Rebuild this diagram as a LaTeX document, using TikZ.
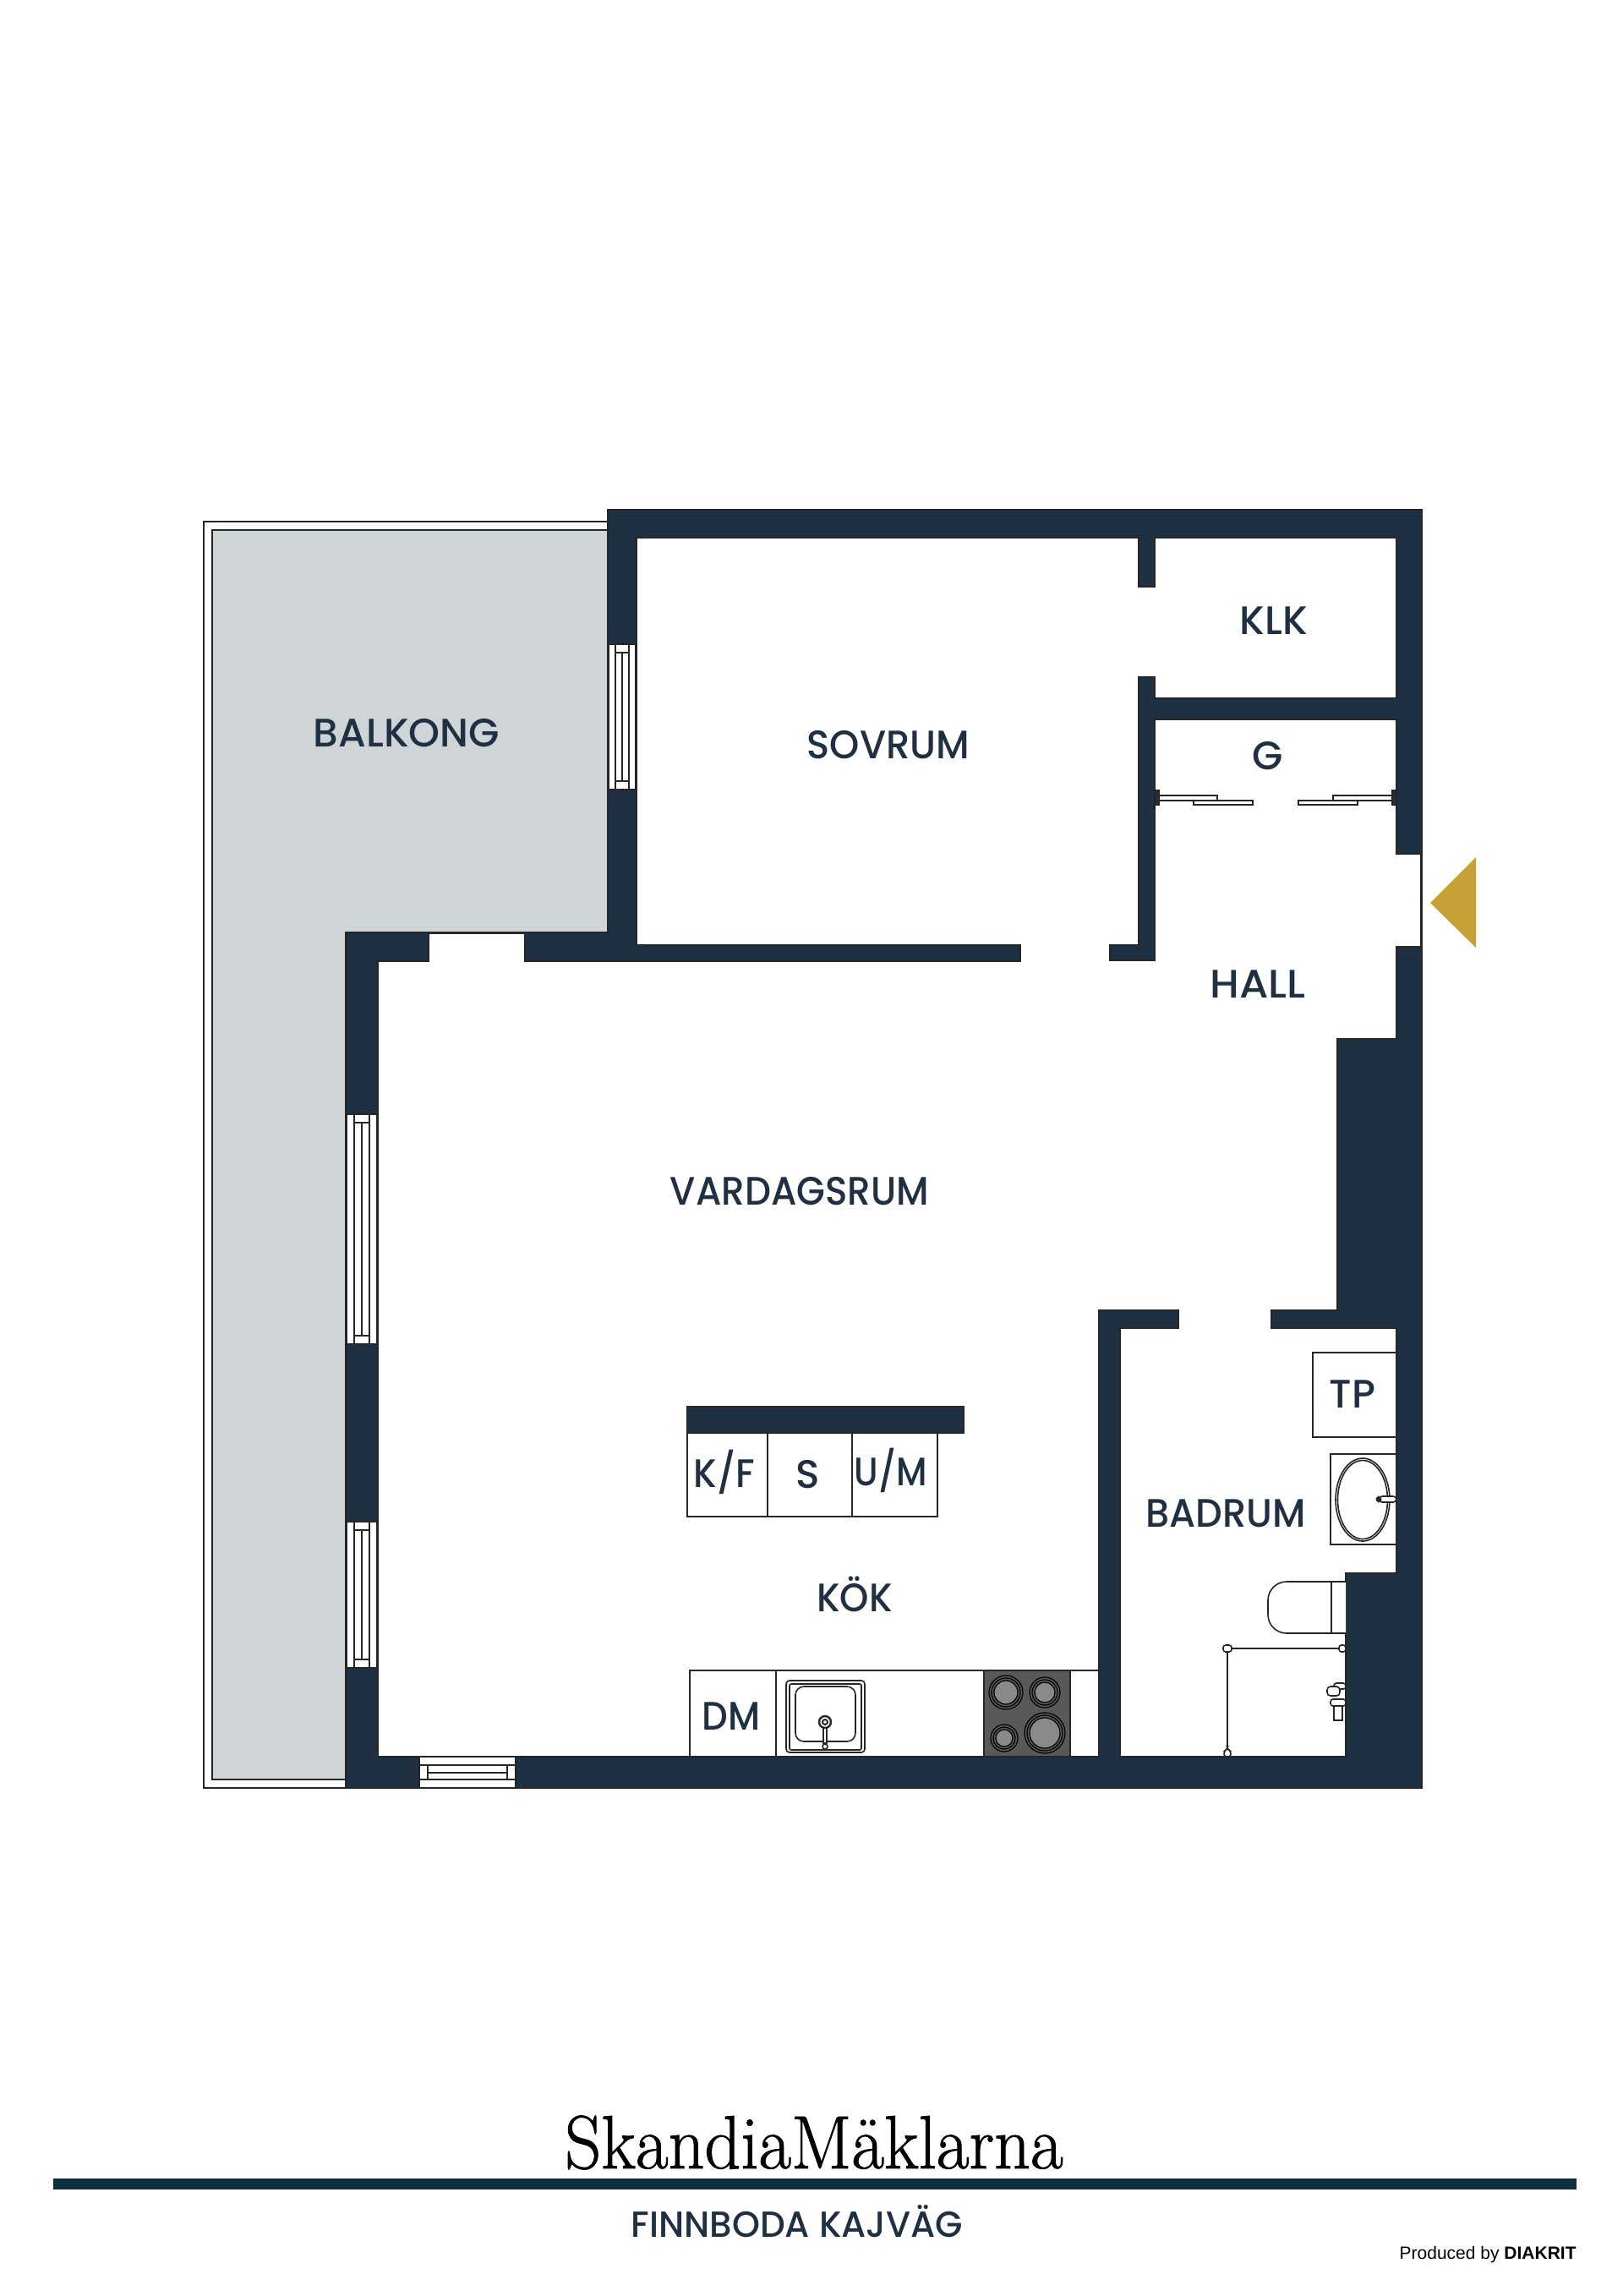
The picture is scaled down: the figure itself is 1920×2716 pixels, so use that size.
\documentclass[tikz,border=0pt]{standalone}
\usepackage{fontspec}
\setmainfont{Poppins}[UprightFont=* Medium]
\newfontfamily\logofont[FakeStretch=0.94,FakeBold=1]{Latin Modern Roman}
\newfontfamily\creditfont{Liberation Sans}
\definecolor{wallblue}{HTML}{203043}
\definecolor{balcgray}{HTML}{CFD4D7}
\definecolor{goldtri}{HTML}{C7A035}
\definecolor{rulesea}{HTML}{0E2F40}
\definecolor{hobgray}{HTML}{595959}
\definecolor{ringgray}{HTML}{8A8A8A}
\tikzset{
  wall/.style={draw=black!85,line width=.8pt,fill=wallblue},
  roomline/.style={draw=black!85,line width=.8pt,fill=white},
  fixture/.style={draw=black!85,line width=.8pt,fill=white},
  room/.style={anchor=base,inner sep=0pt,text=wallblue,font=\fontsize{23.5}{24}\selectfont},
  squeeze/.style={xscale=#1,transform shape},
}
\begin{document}
\begin{tikzpicture}[x=.5pt,y=-.5pt]
  \useasboundingbox (0,0) rectangle (1920,2716);
  \draw[roomline] (719,617) -- (241,617) -- (241,2115) -- (409,2115);
  \draw[roomline,fill=balcgray] (719,627) -- (251,627) -- (251,2105) -- (409,2105) -- (409,1103) -- (719,1103) -- cycle;
  \draw[wall] (719,603) -- (1682,603) -- (1682,2115) -- (409,2115) -- (409,1103) -- (719,1103) -- cycle;
  \draw[roomline] (753,636) -- (1347,636) -- (1347,694) -- (1366,694) -- (1366,636) -- (1652,636) -- (1652,826)
    -- (1366,826) -- (1366,801) -- (1347,801) -- (1347,1118) -- (1313,1118) -- (1313,1136) -- (1366,1136)
    -- (1366,851) -- (1652,851) -- (1652,1010) -- (1681,1010) -- (1681,1120) -- (1652,1120) -- (1652,1229)
    -- (1582,1229) -- (1582,1550) -- (1504,1550) -- (1504,1571) -- (1652,1571) -- (1652,1861) -- (1592,1861)
    -- (1592,2078) -- (1325,2078) -- (1325,1571) -- (1394,1571) -- (1394,1550) -- (1300,1550) -- (1300,2078)
    -- (447,2078) -- (447,1137) -- (507,1137) -- (507,1104) -- (621,1104) -- (621,1137) -- (1207,1137)
    -- (1207,1118) -- (753,1118) -- cycle;
  \foreach \wx/\ww/\wa/\wb in {720/32/762/934,410/36/1318/1590,410/36/1800/1973} {
    \draw[fixture] (\wx,\wa) rectangle +(\ww,\wb-\wa);
    \draw[fixture] (\wx+\ww/4,\wa) -- (\wx+\ww/4,\wb) (\wx+3*\ww/4,\wa) -- (\wx+3*\ww/4,\wb);
    \draw[fixture] (\wx+\ww/4,\wa+10) -- (\wx+3*\ww/4,\wa+10) (\wx+\ww/4,\wb-10) -- (\wx+3*\ww/4,\wb-10) (\wx+\ww/2,\wa+10) -- (\wx+\ww/2,\wb-10);
  }
  \draw[fixture] (496,2078) rectangle (610,2115);
  \draw[fixture] (496,2088) -- (610,2088) (496,2105) -- (610,2105) (506,2088) -- (506,2105) (600,2088) -- (600,2105) (506,2097) -- (600,2097);

  \draw[wall] (1366,935) rectangle (1371,952) (1647,935) rectangle (1652,952);
  \draw[fixture] (1371,941) rectangle (1440,947);
  \draw[fixture] (1412,947) rectangle (1482,952);
  \draw[fixture] (1577,941) rectangle (1647,947);
  \draw[fixture] (1536,947) rectangle (1606,952);

  \fill[goldtri] (1692,1068) -- (1746,1014) -- (1746,1121) -- cycle;

  \draw[wall] (813,1664) rectangle (1140,1695);
  \draw[fixture] (813,1695) rectangle (908,1794);
  \draw[fixture] (908,1695) rectangle (1008,1794);
  \draw[fixture] (1008,1695) rectangle (1109,1794);
  \draw[fixture] (816,1976) rectangle (1300,2078);
  \draw[fixture] (918,1976) -- (918,2078);
  \draw[fixture,rounded corners=2pt] (930,1988) rectangle (1023,2073);
  \draw[fixture,rounded corners=1pt] (934,1992) rectangle (1019,2070);
  \draw[fixture,rounded corners=5pt] (941,1995) rectangle (1012,2060);
  \draw[fixture,line width=1.2pt] (976,2037) circle (7);
  \draw[fixture,line width=1pt] (976,2037) circle (3);
  \draw[fixture,line width=1pt] (974,2044) rectangle (978,2062);
  \draw[fixture,line width=.8pt] (976,2066) circle (3);
  \draw[fixture,fill=hobgray] (1164,1976) rectangle (1266,2078);
  \foreach \bx/\by/\br in {1190/2002/20,1236/2002/18,1188/2056/16,1236/2050/24} {
    \draw[line width=.6pt,fill=hobgray,draw=black] (\bx,\by) circle (\br);
    \draw[line width=.6pt,draw=black] (\bx,\by) circle (\br-3);
    \draw[line width=.6pt,fill=ringgray,draw=black] (\bx,\by) circle (\br-6);
  }

  \draw[fixture] (1553,1600) rectangle (1652,1700);
  \draw[fixture] (1574,1720) rectangle (1652,1827);
  \draw[fixture] (1612,1774) ellipse (32 and 49);
  \draw[fixture] (1612,1774) ellipse (29.5 and 46.5);
  \draw[fixture,rounded corners=2pt] (1631,1770) rectangle (1652,1777);
  \fill[black!85] (1631,1773.5) circle (3.5);
  \draw[fixture,rounded corners=11pt] (1592,1871) -- (1500,1871) -- (1500,1932) -- (1592,1932);
  \draw[fixture] (1575,1871) -- (1575,1932);
  \draw[fixture,line width=1pt] (1452,1950) -- (1588,1950) (1452,1950) -- (1452,2073);
  \draw[fixture,rounded corners=1.5pt] (1447,1946) rectangle (1457,1954);
  \draw[fixture,rounded corners=1.5pt] (1584,1946) rectangle (1592,1954);
  \draw[fixture,rounded corners=1.5pt] (1448,2072) -- (1452,2068) -- (1456,2072) -- (1456,2078) -- (1448,2078) -- cycle;
  \draw[fixture,rounded corners=1.5pt] (1578,1991) rectangle (1592,1998);
  \draw[fixture,rounded corners=2pt] (1570,1995) rectangle (1585,2006);
  \draw[fixture,rounded corners=1.5pt] (1574,2010) rectangle (1592,2018);
  \draw[fixture] (1578,2018) rectangle (1588,2035);

  \path (481,883) node[room] (balkong) {BALKONG};
  \path (1051,897) node[room,squeeze=.955] (sovrum) {SOVRUM};
  \path (1507,750) node[room] (klk) {KLK};
  \path (1500,910) node[room] (garderob) {G};
  \path (1488,1180) node[room,squeeze=1.05] (hall) {HALL};
  \path (946,1425) node[room,squeeze=.93] (vardagsrum) {VARDAGSRUM};
  \path (857,1759) node[room,squeeze=.93] (kf) {K/F};
  \path (956,1760) node[room] (sk) {S};
  \path (1054,1757) node[room,squeeze=.88] (um) {U/M};
  \path (1011,1906) node[room,squeeze=.93] (kok) {KÖK};
  \path (865,2046) node[room,squeeze=.92] (dm) {DM};
  \path (1600,1665) node[room] (tp) {TP};
  \path (1450,1806) node[room,squeeze=.95] (badrum) {BADRUM};

  \path (963,2565) node[anchor=base,inner sep=0pt,font=\logofont\fontsize{44.7}{45}\selectfont] (logo) {SkandiaMäklarna};
  \fill[rulesea] (63,2577) rectangle (1865,2590);
  \path (943,2646) node[room,squeeze=.975,font=\fontsize{21.5}{22}\selectfont] (adress) {FINNBODA KAJVÄG};
  \path (1865,2672) node[anchor=base east,inner sep=0pt,font=\creditfont\fontsize{10.5}{11}\selectfont] (credit) {Produced by \textbf{DIAKRIT}};
\end{tikzpicture}
\end{document}
